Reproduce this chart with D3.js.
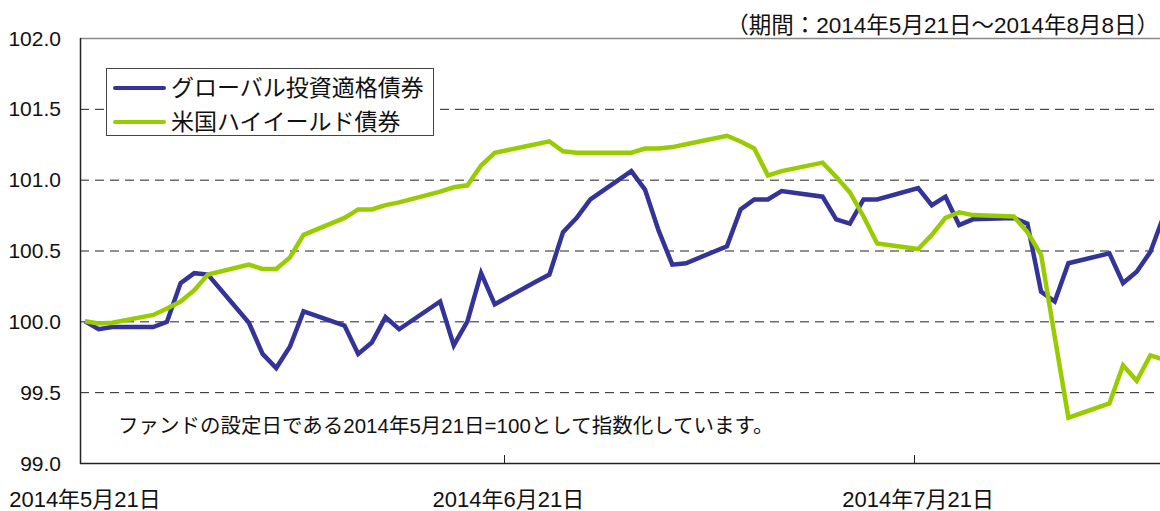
<!DOCTYPE html>
<html><head><meta charset="utf-8">
<script src="https://cdn.jsdelivr.net/npm/d3@7/dist/d3.min.js"></script>
<style>
html,body{margin:0;padding:0;background:#fff;}
svg text{font-family:"Liberation Sans","Noto Sans CJK JP",sans-serif;fill:#111;}
</style></head>
<body><svg id="c" width="1160" height="511"></svg>
<script>
const dates = ["2014-05-21","2014-05-22","2014-05-23","2014-05-26","2014-05-27","2014-05-28","2014-05-29","2014-05-30",
"2014-06-02","2014-06-03","2014-06-04","2014-06-05","2014-06-06","2014-06-09","2014-06-10","2014-06-11","2014-06-12","2014-06-13",
"2014-06-16","2014-06-17","2014-06-18","2014-06-19","2014-06-20","2014-06-23","2014-06-24","2014-06-25","2014-06-26","2014-06-27",
"2014-06-30","2014-07-01","2014-07-02","2014-07-03","2014-07-04","2014-07-07","2014-07-08","2014-07-09","2014-07-10","2014-07-11",
"2014-07-14","2014-07-15","2014-07-16","2014-07-17","2014-07-18","2014-07-21","2014-07-22","2014-07-23","2014-07-24","2014-07-25",
"2014-07-28","2014-07-29","2014-07-30","2014-07-31","2014-08-01","2014-08-04","2014-08-05","2014-08-06","2014-08-07","2014-08-08"];
const globalIG = [100.00,99.944,99.96,99.96,99.997,100.27,100.34,100.33,
99.99,99.77,99.67,99.82,100.07,99.97,99.77,99.85,100.03,99.944,
100.14,99.83,100.0,100.34,100.12,100.28,100.33,100.63,100.73,100.86,
101.06,100.93,100.64,100.40,100.41,100.53,100.79,100.86,100.86,100.92,
100.88,100.72,100.69,100.86,100.86,100.94,100.82,100.88,100.68,100.72,
100.73,100.69,100.21,100.14,100.41,100.48,100.27,100.35,100.49,100.75];
const usHY = [100.00,99.985,99.99,100.045,100.09,100.14,100.22,100.33,
100.40,100.37,100.37,100.45,100.61,100.73,100.79,100.79,100.82,100.84,
100.915,100.946,100.96,101.10,101.19,101.25,101.27,101.20,101.19,101.19,
101.19,101.22,101.22,101.23,101.25,101.31,101.27,101.22,101.03,101.06,
101.12,101.02,100.91,100.74,100.55,100.51,100.61,100.73,100.77,100.75,
100.74,100.63,100.47,99.89,99.32,99.42,99.69,99.58,99.76,99.73];
const seriesNames = ["グローバル投資適格債券","米国ハイイールド債券"];
const seriesColors = ["#333399","#99cc00"];
const yTicks = [99.0,99.5,100.0,100.5,101.0,101.5,102.0];
const xTickDates = ["2014-05-21","2014-06-21","2014-07-21"];
const xTickLabels = ["2014年5月21日","2014年6月21日","2014年7月21日"];
const titleText = "（期間：2014年5月21日～2014年8月8日）";
const noteText = "ファンドの設定日である2014年5月21日=100として指数化しています。";

const parse = d3.timeParse("%Y-%m-%d");
const svg = d3.select("#c");
const L = 80, T = 38, B = 463;
const x = d3.scaleTime().domain([parse("2014-05-21"), parse("2014-08-08")]).range([85, 1164]);
const y = d3.scaleLinear().domain([99, 102]).range([B, T]);

// gridlines
svg.append("g").selectAll("line").data(yTicks.filter(v => v > 99 && v < 102)).join("line")
  .attr("x1", L).attr("x2", 1160).attr("y1", d => y(d)+0.5).attr("y2", d => y(d)+0.5)
  .attr("stroke", "#222").attr("stroke-width", 1).attr("stroke-dasharray", "9,6");
// top frame
svg.append("line").attr("x1", L).attr("x2", 1160).attr("y1", y(102)+0.5).attr("y2", y(102)+0.5)
  .attr("stroke", "#888").attr("stroke-width", 1.5);

// y labels
svg.append("g").selectAll("text").data(yTicks).join("text")
  .attr("x", 61).attr("y", d => y(d)).attr("dy", "0.36em").attr("text-anchor", "end")
  .attr("font-size", 21).text(d => d.toFixed(1));

// lines
const data = [globalIG, usHY];
const line = d3.line().x((d, i) => x(parse(dates[i]))).y(d => y(d));
data.forEach((s, k) => {
  svg.append("path").datum(s).attr("d", line).attr("fill", "none")
    .attr("stroke", seriesColors[k]).attr("stroke-width", 4.5).attr("stroke-linejoin", "miter");
});

// axes
svg.append("line").attr("x1", L+0.5).attr("x2", L+0.5).attr("y1", T).attr("y2", B+1).attr("stroke", "#222").attr("stroke-width", 1.5);
svg.append("line").attr("x1", L).attr("x2", 1160).attr("y1", B+0.5).attr("y2", B+0.5).attr("stroke", "#222").attr("stroke-width", 1.5);
svg.append("g").selectAll("line").data(xTickDates.slice(1)).join("line")
  .attr("x1", d => Math.round(x(parse(d)))-3.5).attr("x2", d => Math.round(x(parse(d)))-3.5)
  .attr("y1", B).attr("y2", B-8).attr("stroke", "#222");
svg.append("g").selectAll("text").data(xTickDates).join("text")
  .attr("x", d => x(parse(d))).attr("y", 507).attr("text-anchor", "middle")
  .attr("font-size", 22).text((d, i) => xTickLabels[i]);

// legend
const lg = svg.append("g");
lg.append("rect").attr("x", 106.5).attr("y", 68.5).attr("width", 327).attr("height", 67)
  .attr("fill", "#fff").attr("stroke", "#444").attr("stroke-width", 1);
seriesNames.forEach((n, k) => {
  const yy = 88 + k * 34;
  lg.append("line").attr("x1", 115).attr("x2", 164).attr("y1", yy).attr("y2", yy)
    .attr("stroke", seriesColors[k]).attr("stroke-width", 4).attr("stroke-linecap", "round");
  lg.append("text").attr("x", 171).attr("y", yy).attr("dy", "0.36em").attr("font-size", 23).text(n);
});

// title and note
svg.append("text").attr("x", 1159).attr("y", 33).attr("text-anchor", "end").attr("font-size", 22.5).text(titleText);
svg.append("text").attr("x", 118).attr("y", 426).attr("dy", "0.36em").attr("font-size", 20.5).text(noteText);
</script></body></html>
